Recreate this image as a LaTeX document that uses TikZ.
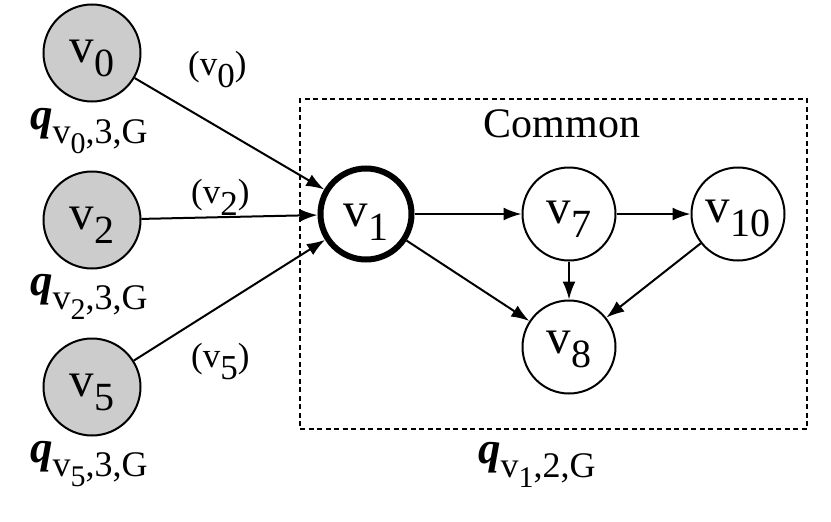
\documentclass[tikz,border=0pt]{standalone}
\usepackage{fontspec}
\setmainfont{Liberation Serif}
\usetikzlibrary{arrows.meta}
\newcommand\vnode[2]{\raisebox{-#2pt}[0pt][0pt]{\fontsize{49}{50}\selectfont v\raisebox{-14pt}{\fontsize{40}{40}\selectfont #1}}}
\newcommand\elab[1]{\fontsize{35}{36}\selectfont (v\raisebox{-12pt}{#1})}
\newcommand\qlab[3]{{\fontsize{45}{46}\selectfont\bfseries\itshape q}\raisebox{-14pt}{\fontsize{36}{37}\selectfont v\raisebox{-10pt}{\fontsize{30}{31}\selectfont #1},#2,#3}}
\definecolor{nodegray}{RGB}{204,204,204}
\tikzset{
  vert/.style={circle, draw, line width=2pt, inner sep=0pt, minimum size=93pt},
  src/.style={vert, fill=nodegray, minimum size=97pt},
  key/.style={vert, line width=6pt, minimum size=91pt},
  edge/.style={line width=2pt, -{Latex[length=18pt,width=13pt]}},
  lab/.style={inner sep=0pt, anchor=base west},
}
\begin{document}
\begin{tikzpicture}[x=1pt,y=-1pt]
\useasboundingbox (0,0) rectangle (831,522);
% dashed frame
\node[draw, dash pattern=on 5pt off 3.5pt, line width=1.5pt, minimum width=507pt, minimum height=330pt, inner sep=0pt] (box) at (553.5,264) {};
\node[inner sep=0pt, anchor=base] (common) at (562,137) {\fontsize{42}{44}\selectfont Common};
% vertices
\node[src] (v0) at (92,53) {\vnode{0}{9}};
\node[src] (v2) at (92,220) {\vnode{2}{9}};
\node[src] (v5) at (92,387) {\vnode{5}{9}};
\node[key] (v1) at (366,214) {\vnode{1}{12}};
\node[vert] (v7) at (569,214) {\vnode{7}{9}};
\node[vert] (v10) at (738,214) {\vnode{10}{8}};
\node[vert] (v8) at (569,347) {\vnode{8}{6}};
% labels
\node[lab] (q0) at (30,129) {\qlab{0}{3}{G}};
\node[lab] (q2) at (30,295) {\qlab{2}{3}{G}};
\node[lab] (q5) at (30,462) {\qlab{5}{3}{G}};
\node[lab] (q1) at (478,463) {\qlab{1}{2}{G}};
\node[lab] (e0) at (188,75) {\elab{0}};
\node[lab] (e2) at (191,203) {\elab{2}};
\node[lab] (e5) at (191,367) {\elab{5}};
% edges
\draw[edge] (v0) -- (v1);
\draw[edge] (v2) -- (v1);
\draw[edge] (v5) -- (v1);
\draw[edge] (v1) -- (v7);
\draw[edge] (v7) -- (v10);
\draw[edge] (v7) -- (v8);
\draw[edge] (v1) -- (v8);
\draw[edge] (v10) -- (v8);
\end{tikzpicture}
\end{document}
